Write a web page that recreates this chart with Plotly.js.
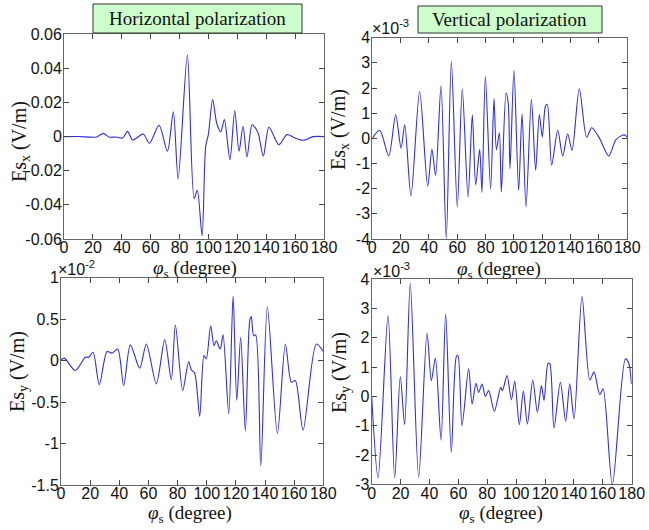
<!DOCTYPE html>
<html>
<head>
<meta charset="utf-8">
<script src="https://cdn.plot.ly/plotly-3.0.1.min.js"></script>
<style>html,body{margin:0;padding:0;background:#fff;}#chart{width:649px;height:530px;}</style>
</head>
<body>
<div id="chart"></div>
<script>
// ---- Data (angles in degrees, values as shown on each axis) ----
// Horizontal polarization, Es_x (V/m)
var hxDeg = [0,10,22.6,27.2,31.4,36,40.6,44,47.5,51,54.9,59.1,65.8,71.6,75.7,79,85.4,90.1,92.3,95.6,98.1,99.9,102.9,105.7,108.5,111,114.9,118.2,121.2,123.9,126.7,130.2,132.5,134.6,138,141.9,148.8,154.4,159.9,165.7,172.6,180];
var hxVal = [0,0.0001,-0.0002,0.0019,-0.0003,-0.0002,-0.0008,0.0031,-0.002,-0.0003,0.0016,-0.0039,0.0067,-0.0086,0.0145,-0.0248,0.0478,-0.0364,-0.0314,-0.058,-0.0056,0.001,0.0217,0.008,0.0028,0.010,-0.0135,0.0152,-0.0086,0.0061,-0.0119,0.0070,0.0051,0.0016,-0.0115,0.0055,-0.0047,0.0012,-0.0008,-0.0021,0.0,0.0];
// Vertical polarization, Es_x (x10^-3 V/m)
var vxDeg = [0,5.2,11.6,16.5,20.3,22.9,27.3,33.4,39.1,42.1,44.7,48.5,52.2,55.8,60.0,63.5,67.6,70.6,73.0,75.8,77.4,79.8,83.5,85.9,87.6,89.7,91.1,94.4,96.0,97.2,100.0,103.3,105.7,108.5,112.3,115.3,117.9,120.0,122.3,123.5,126.6,130.9,134.4,137.9,141.0,146.1,151.3,154.9,160.3,166.9,172,177.9,180];
var vxVal = [0,0.32,-0.70,0.94,-0.39,0.54,-2.29,1.87,-1.90,-0.44,-1.47,2.10,-3.99,3.06,-2.73,1.97,-2.33,0.94,-1.85,-0.45,-2.15,2.48,-2.02,1.58,-0.45,0.22,-2.13,1.81,1.37,-1.21,2.70,-2.07,0.98,-2.73,1.55,-1.27,0.95,0.05,1.30,1.35,-1.07,0.32,-0.70,0.18,-0.48,1.97,0.05,0.42,0.01,-0.70,-0.05,0.14,0.05];
// Horizontal polarization, Es_y (x10^-2 V/m)
var hyDeg = [0,2.3,9.8,16.7,19,22,26.3,31.6,35,38.9,43,47.6,54,58.6,65.4,71.2,75.7,78.5,83.5,87.6,89.4,91.7,95.2,98.1,99.7,102.7,105,106.6,109.3,111.2,115.1,118.1,120.6,123.3,126.5,129.5,130.6,132.2,133.6,137.1,141.6,148.5,154,158.1,160.8,166.1,175.2,180];
var hyVal = [0.01,0.03,-0.12,0.04,0.04,0.10,-0.29,0.11,0.09,0.14,-0.30,0.19,-0.09,0.20,-0.28,0.25,-0.23,0.43,-0.36,-0.01,-0.11,-0.15,-0.67,0.06,0.02,0.42,0.18,0.24,0.14,0.31,-0.64,0.78,-0.48,0.28,-0.85,0.48,0.53,0.30,0.31,-1.27,0.65,-0.88,0.20,-0.26,-0.24,-0.84,0.20,0.11];
// Vertical polarization, Es_y (x10^-3 V/m)
var vyDeg = [0,4.4,11.3,15.9,19.8,22.8,26.7,32.5,38.3,41.3,44.1,48.0,51.2,55.1,58.6,59.7,62.5,67.1,69.5,72.2,74.0,76.4,78.7,81.0,84.9,89.3,90.5,93.7,96.7,99.0,102.2,105.0,107.8,111.5,114.7,117.5,119.3,122.1,123.3,126.2,130.6,134.3,137.1,140.1,145.6,151.0,153.9,157.9,160.2,166.6,175.6,177.9,179.8];
var vyVal = [0,-2.78,2.76,-2.78,0.68,-0.96,3.86,-2.76,2.16,0.54,1.31,-1.49,2.82,-1.91,1.36,1.40,-1.00,0.94,-0.26,0.45,0.14,0.42,0.0,0.20,-0.51,0.31,0.20,0.71,-0.12,0.52,-0.96,0.18,-0.94,0.56,-0.54,0.37,-0.14,1.13,1.12,-1.08,0.48,-0.85,0.43,-0.77,3.41,0.56,0.83,0.06,0.26,-3.01,1.28,1.15,0.43];

// Tick labels
var xTicks = [0,20,40,60,80,100,120,140,160,180];
var xTickText = ["0","20","40","60","80","100","120","140","160","180"];
var y1Ticks = [-0.06,-0.04,-0.02,0,0.02,0.04,0.06];
var y1Text = ["-0.06","-0.04","-0.02","0","0.02","0.04","0.06"];
var y2Ticks = [-4,-3,-2,-1,0,1,2,3,4];
var y2Text = ["-4","-3","-2","-1","0","1","2","3","4"];
var y3Ticks = [-1.5,-1,-0.5,0,0.5,1];
var y3Text = ["-1.5","-1","-0.5","0","0.5","1"];
var y4Ticks = [-3,-2,-1,0,1,2,3,4];
var y4Text = ["-3","-2","-1","0","1","2","3","4"];

// ---- Layout helpers ----
var W = 649, H = 530;
function px(x){ return x / W; }
function py(y){ return 1 - y / H; }
var lineStyle = {color:'rgb(45,45,235)', width:1.1, shape:'spline', smoothing:0.8};
function trace(x, y, xa, ya){
  return {x:x, y:y, xaxis:xa, yaxis:ya, type:'scatter', mode:'lines', line:lineStyle, hoverinfo:'skip', showlegend:false};
}
var tickFont = {family:"'Liberation Sans', Arial, sans-serif", size:16, color:'#111'};
function axis(dom, anchor, range, tv, tt, standoff){
  return {domain:dom, anchor:anchor, range:range, tickmode:'array', tickvals:tv, ticktext:tt, tickangle:0,
    ticks:'inside', ticklen:5, tickwidth:1, tickcolor:'#444', showline:true, linecolor:'#666', linewidth:1,
    mirror:'ticks', showgrid:false, zeroline:false, tickfont:tickFont, fixedrange:true, ticklabelstandoff:standoff};
}
var serif = "'Liberation Serif', 'Times New Roman', serif";
function ann(x, y, text, opts){
  var a = {xref:'paper', yref:'paper', x:px(x), y:py(y), text:text, showarrow:false,
    xanchor:'center', yanchor:'middle', font:{family:serif, size:20, color:'#111'}};
  for (var k in opts) a[k] = opts[k];
  return a;
}
var ytitle = 'Es<sub>x</sub> (V/m)';
var ytitleY = 'Es<sub>y</sub> (V/m)';
var xtitle = '<i>φ</i><sub>s</sub> (degree)';
var xtFont = {family:serif, size:19, color:'#111'};
var expFont = {family:"'Liberation Sans', Arial, sans-serif", size:16, color:'#111'};
var XS = -6, YS = -2;

var data = [
  trace(hxDeg, hxVal, 'x', 'y'),
  trace(vxDeg, vxVal, 'x2', 'y2'),
  trace(hyDeg, hyVal, 'x3', 'y3'),
  trace(vyDeg, vyVal, 'x4', 'y4')
];

var layout = {
  width:W, height:H, margin:{l:0,r:0,t:0,b:0}, paper_bgcolor:'#fff', plot_bgcolor:'#fff', showlegend:false,
  xaxis:  axis([px(64), px(324)], 'y', [0,180], xTicks, xTickText, XS),
  yaxis:  axis([py(239), py(34.3)], 'x', [-0.06,0.06], y1Ticks, y1Text, YS),
  xaxis2: axis([px(372.3), px(627.3)], 'y2', [0,180], xTicks, xTickText, XS),
  yaxis2: axis([py(239), py(37.7)], 'x2', [-4,4], y2Ticks, y2Text, YS),
  xaxis3: axis([px(61), px(323.3)], 'y3', [0,180], xTicks, xTickText, XS),
  yaxis3: axis([py(485), py(277.7)], 'x3', [-1.5,1], y3Ticks, y3Text, YS),
  xaxis4: axis([px(371.7), px(631.7)], 'y4', [0,180], xTicks, xTickText, XS),
  yaxis4: axis([py(484.3), py(279.3)], 'x4', [-3,4], y4Ticks, y4Text, YS),
  shapes: [
    {type:'rect', xref:'paper', yref:'paper', x0:px(93), x1:px(302), y0:py(33), y1:py(4), fillcolor:'#ccffcc', line:{color:'#333', width:1}},
    {type:'rect', xref:'paper', yref:'paper', x0:px(418), x1:px(602), y0:py(33), y1:py(6), fillcolor:'#ccffcc', line:{color:'#333', width:1}}
  ],
  annotations: [
    ann(197.5, 19, 'Horizontal polarization', {font:{family:serif, size:19, color:'#111'}}),
    ann(510, 20, 'Vertical polarization', {font:{family:serif, size:19, color:'#111'}}),
    ann(21, 142, ytitle, {textangle:-90}),
    ann(340, 130, ytitle, {textangle:-90}),
    ann(18, 372, ytitleY, {textangle:-90}),
    ann(340, 373, ytitleY, {textangle:-90}),
    ann(195, 269, xtitle, {font:xtFont}),
    ann(499, 270, xtitle, {font:xtFont}),
    ann(190, 514, xtitle, {font:xtFont}),
    ann(501, 514, xtitle, {font:xtFont}),
    ann(370, 27, '×10<sup>-3</sup>', {xanchor:'left', font:expFont}),
    ann(56, 268, '×10<sup>-2</sup>', {xanchor:'left', font:expFont}),
    ann(371, 270, '×10<sup>-3</sup>', {xanchor:'left', font:expFont})
  ]
};

Plotly.newPlot('chart', data, layout, {displayModeBar:false, staticPlot:true});
</script>
</body>
</html>
